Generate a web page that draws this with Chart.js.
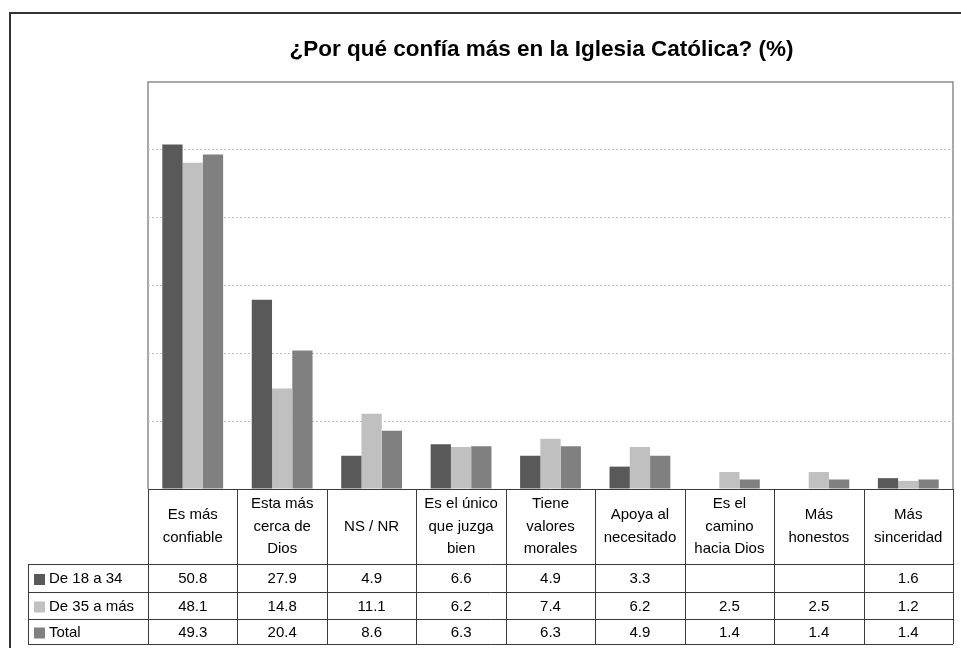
<!DOCTYPE html>
<html>
<head>
<meta charset="utf-8">
<script src="https://cdn.jsdelivr.net/npm/chart.js@4/dist/chart.umd.min.js"></script>
<style>
  body { margin: 0; background: #fff; }
</style>
</head>
<body>
<canvas id="grafico" width="961" height="648"></canvas>
<script>
const categorias = [
  ['Es más', 'confiable'],
  ['Esta más', 'cerca de', 'Dios'],
  ['NS / NR'],
  ['Es el único', 'que juzga', 'bien'],
  ['Tiene', 'valores', 'morales'],
  ['Apoya al', 'necesitado'],
  ['Es el', 'camino', 'hacia Dios'],
  ['Más', 'honestos'],
  ['Más', 'sinceridad']
]
const series = ['De 18 a 34', 'De 35 a más', 'Total']
const de18a34 = [50.8, 27.9, 4.9, 6.6, 4.9, 3.3, null, null, 1.6]
const de35aMas = [48.1, 14.8, 11.1, 6.2, 7.4, 6.2, 2.5, 2.5, 1.2]
const total = [49.3, 20.4, 8.6, 6.3, 6.3, 4.9, 1.4, 1.4, 1.4]
const colores = ['#595959', '#c0c0c0', '#808080']

const FUENTE = "'Liberation Sans', Arial, sans-serif"

// marco exterior y borde del area de trazado
const marco = {
  id: 'marco',
  beforeDraw(chart) {
    const { ctx, chartArea: a } = chart
    ctx.save()
    ctx.fillStyle = '#fff'
    ctx.fillRect(0, 0, chart.width, chart.height)
    ctx.strokeStyle = '#333'
    ctx.lineWidth = 2
    ctx.beginPath()
    ctx.moveTo(10, chart.height + 5)
    ctx.lineTo(10, 13)
    ctx.lineTo(chart.width + 5, 13)
    ctx.stroke()
    ctx.strokeStyle = '#8c8c8c'
    ctx.lineWidth = 1.5
    ctx.beginPath()
    ctx.moveTo(a.left, a.bottom)
    ctx.lineTo(a.left, a.top)
    ctx.lineTo(a.right, a.top)
    ctx.lineTo(a.right, a.bottom)
    ctx.stroke()
    ctx.restore()
  }
}

// tabla de datos debajo del grafico
const tabla = {
  id: 'tabla',
  afterDraw(chart) {
    const { ctx, chartArea: a } = chart
    const x = chart.scales.x
    const ancho = a.width / categorias.length
    const cabeceraFin = 564
    const filas = [cabeceraFin, 592, 619, 644]
    const izq = 28
    ctx.save()
    ctx.strokeStyle = '#3a3a3a'
    ctx.lineWidth = 1
    ctx.beginPath()
    ctx.moveTo(a.left, a.bottom + 0.5)
    ctx.lineTo(a.right, a.bottom + 0.5)
    filas.forEach(y => {
      ctx.moveTo(izq, y + 0.5)
      ctx.lineTo(a.right, y + 0.5)
    })
    for (let i = 0; i <= categorias.length; i++) {
      const xx = Math.round(a.left + i * ancho) + 0.5
      ctx.moveTo(xx, a.bottom)
      ctx.lineTo(xx, filas[3])
    }
    ctx.moveTo(izq + 0.5, cabeceraFin)
    ctx.lineTo(izq + 0.5, filas[3])
    ctx.stroke()

    ctx.fillStyle = '#000'
    ctx.font = '15px ' + FUENTE
    ctx.textAlign = 'center'
    ctx.textBaseline = 'middle'
    const medio = (a.bottom + cabeceraFin) / 2
    const interlinea = 22.5
    categorias.forEach((lineas, i) => {
      const cx = x.getPixelForValue(i)
      const y0 = medio - (lineas.length - 1) * interlinea / 2
      lineas.forEach((t, j) => ctx.fillText(t, cx, y0 + j * interlinea))
    })

    const datos = [de18a34, de35aMas, total]
    datos.forEach((valores, f) => {
      const cy = (filas[f] + filas[f + 1]) / 2 + 1
      ctx.fillStyle = colores[f]
      ctx.fillRect(34, cy - 5, 11, 11)
      ctx.fillStyle = '#000'
      ctx.textAlign = 'left'
      ctx.fillText(series[f], 49, cy)
      ctx.textAlign = 'center'
      valores.forEach((v, i) => {
        if (v !== null) ctx.fillText(v.toFixed(1), x.getPixelForValue(i), cy)
      })
    })
    ctx.restore()
  }
}

new Chart(document.getElementById('grafico'), {
  type: 'bar',
  data: {
    labels: categorias.map(c => c.join(' ')),
    datasets: [
      { label: series[0], data: de18a34, backgroundColor: colores[0] },
      { label: series[1], data: de35aMas, backgroundColor: colores[1] },
      { label: series[2], data: total, backgroundColor: colores[2] }
    ]
  },
  options: {
    responsive: false,
    animation: false,
    datasets: {
      bar: { categoryPercentage: 0.68, barPercentage: 1 }
    },
    layout: {
      padding: { left: 130, right: 8, top: 31, bottom: 159 }
    },
    scales: {
      x: { display: false },
      y: {
        min: 0,
        max: 60,
        ticks: { display: false, stepSize: 10 },
        border: { display: false, dash: [2, 2] },
        grid: {
          drawTicks: false,
          color: (c) => (c.tick.value === 0 || c.tick.value === 60) ? 'rgba(0,0,0,0)' : '#bdbdbd',
          lineWidth: 1
        },
        afterFit(scale) { scale.width = 18 }
      }
    },
    plugins: {
      legend: { display: false },
      tooltip: { enabled: false },
      title: {
        display: true,
        text: '¿Por qué confía más en la Iglesia Católica? (%)',
        color: '#000',
        font: { family: FUENTE, size: 22.5, weight: 'bold' },
        padding: { top: 5, bottom: 19 }
      }
    }
  },
  plugins: [marco, tabla]
})
</script>
</body>
</html>
